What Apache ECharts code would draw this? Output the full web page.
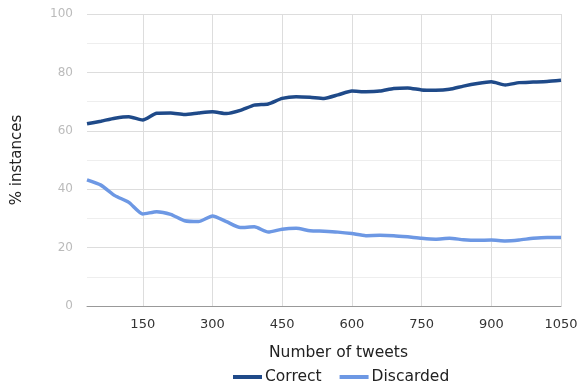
<!DOCTYPE html>
<html><head><meta charset="utf-8">
<script src="https://cdn.jsdelivr.net/npm/echarts@6/dist/echarts.min.js"></script>
<style>html,body{margin:0;padding:0;background:#fff}#c{width:582px;height:385px}</style>
</head><body><div id="c"></div>
<script>
const tweets = [30,60,90,120,150,180,210,240,270,300,330,360,390,420,450,480,510,540,570,600,630,660,690,720,750,780,810,840,870,900,930,960,990,1020,1050];
const correct = [62.4,63.3,64.3,64.8,63.7,66.0,66.1,65.6,66.1,66.5,65.9,67.0,68.8,69.2,71.1,71.7,71.5,71.1,72.3,73.6,73.4,73.6,74.5,74.7,74.0,73.9,74.2,75.3,76.2,76.8,75.7,76.5,76.7,76.9,77.3];
const discarded = [43.2,41.4,37.8,35.5,31.5,32.3,31.4,29.2,28.9,30.8,28.9,26.9,27.1,25.3,26.3,26.6,25.8,25.6,25.3,24.8,24.1,24.2,24.1,23.7,23.2,22.9,23.2,22.7,22.5,22.6,22.3,22.6,23.2,23.5,23.5];
const seriesNames = ['Correct','Discarded'];
const yTicks = [0,20,40,60,80,100];
const font = 'DejaVu Sans';
const chart = echarts.init(document.getElementById('c'));
const every150 = (i) => (i + 1) % 5 === 0;
chart.setOption({
  animation:false,
  grid:{left:87,right:21,top:14,bottom:79,containLabel:false},
  legend:{top:369,left:233,padding:0,itemWidth:29,itemHeight:4,itemGap:18,icon:'rect',
    textStyle:{fontFamily:font,fontSize:15.5,color:'#222',padding:[0,0,0,-2]},data:seriesNames},
  xAxis:{type:'category',data:tweets,boundaryGap:false,
    name:'Number of tweets',nameLocation:'middle',nameGap:39,
    nameTextStyle:{fontFamily:font,fontSize:15.5,color:'#222',padding:[0,0,0,29]},
    axisLine:{lineStyle:{color:'#999'}},axisTick:{show:false},
    axisLabel:{interval:every150,fontFamily:font,fontSize:13,color:'#333',margin:12},
    splitLine:{show:true,interval:every150,lineStyle:{color:'#ddd'}}},
  yAxis:{type:'value',min:yTicks[0],max:yTicks[yTicks.length-1],interval:20,
    name:'% instances',nameLocation:'middle',nameGap:62,
    nameTextStyle:{fontFamily:font,fontSize:15,color:'#222'},
    axisLine:{show:false},axisTick:{show:false},
    axisLabel:{fontFamily:font,fontSize:12,color:'#bbb',margin:14},
    splitLine:{lineStyle:{color:'#ddd'}},
    minorTick:{show:false,splitNumber:2},
    minorSplitLine:{show:true,lineStyle:{color:'#eee'}}},
  series:[
    {name:seriesNames[0],type:'line',data:correct,showSymbol:false,smooth:0.2,
      lineStyle:{width:3.5,color:'#1f4a89'},itemStyle:{color:'#1f4a89'}},
    {name:seriesNames[1],type:'line',data:discarded,showSymbol:false,smooth:0.2,
      lineStyle:{width:3.5,color:'#6d98e4'},itemStyle:{color:'#6d98e4'}}
  ]
});
</script></body></html>
